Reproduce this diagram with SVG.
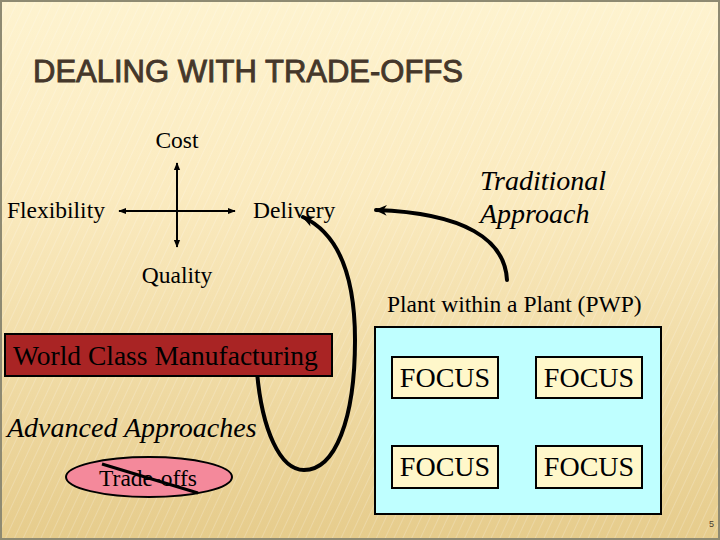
<svg xmlns="http://www.w3.org/2000/svg" width="720" height="540" viewBox="0 0 720 540">
<defs>
<linearGradient id="bg" x1="0" y1="0" x2="0" y2="1">
<stop offset="0" stop-color="#FEF3CF"/>
<stop offset="0.35" stop-color="#FBEBC0"/>
<stop offset="1" stop-color="#E6CC8C"/>
</linearGradient>
<pattern id="stripes" width="8" height="8" patternUnits="userSpaceOnUse" patternTransform="rotate(25)">
<line x1="0" y1="0" x2="0" y2="8" stroke="#FFFFFF" stroke-width="2" stroke-opacity="0.2"/>
</pattern>
<marker id="ah" viewBox="0 0 10 10" refX="9" refY="5" markerWidth="8" markerHeight="8" markerUnits="userSpaceOnUse" orient="auto-start-reverse">
<path d="M0,1 L10,5 L0,9 Z" fill="#000"/>
</marker>
<marker id="ahBig" viewBox="0 0 10 10" refX="9" refY="5" markerWidth="13" markerHeight="12" markerUnits="userSpaceOnUse" orient="auto">
<path d="M0,0.5 L10,5 L0,9.5 L3,5 Z" fill="#000"/>
</marker>
<style>
.serif{font-family:"Liberation Serif","Times New Roman",serif;fill:#000;}
.it{font-style:italic;}
.box{stroke:#000;stroke-width:2;}
.thin{stroke:#000;stroke-width:2;fill:none;}
.thick{stroke:#000;stroke-width:4;fill:none;stroke-linecap:round;}
</style>
</defs>

<rect x="0" y="0" width="720" height="540" fill="url(#bg)"/>
<rect x="0" y="0" width="720" height="540" fill="url(#stripes)"/>
<rect x="1" y="1" width="718" height="538" fill="none" stroke="#8E8A72" stroke-width="2"/>

<text id="title" x="33" y="82" font-family="'Liberation Sans',Arial,sans-serif" font-size="31" fill="#45372A" stroke="#45372A" stroke-width="0.9">DEALING WITH TRADE-OFFS</text>

<g id="connectors">
<line x1="177" y1="247" x2="177" y2="163" class="thin" marker-start="url(#ah)" marker-end="url(#ah)"/>
<line x1="119" y1="211" x2="235" y2="211" class="thin" marker-start="url(#ah)" marker-end="url(#ah)"/>
<path d="M507,280 C505,240 465,213 376,210" class="thick" marker-end="url(#ahBig)"/>
<path d="M257,372 C262,430 280,470 304,470 C335,470 355,420 355,340 C355,270 335,232 303,217" class="thick" marker-end="url(#ahBig)"/>
</g>

<g id="cost"><text x="177" y="148" class="serif" font-size="23.5" text-anchor="middle">Cost</text></g>
<g id="flexibility"><text x="7" y="218" class="serif" font-size="23.5">Flexibility</text></g>
<g id="delivery"><text x="253" y="218" class="serif" font-size="23.5">Delivery</text></g>
<g id="quality"><text x="177" y="283" class="serif" font-size="23.5" text-anchor="middle">Quality</text></g>

<g id="traditional">
<text x="480" y="190" class="serif it" font-size="28">Traditional</text>
<text x="480" y="223" class="serif it" font-size="28">Approach</text>
</g>

<g id="pwp-label"><text x="387" y="312" class="serif" font-size="23.5">Plant within a Plant (PWP)</text></g>

<g id="pwp">
<rect x="375" y="327" width="286" height="187" fill="#BFFFFF" class="box"/>
</g>
<g id="focus1"><rect x="392" y="357" width="106" height="41" fill="#FFF7CA" class="box"/><text x="445" y="387" class="serif" font-size="28" text-anchor="middle">FOCUS</text></g>
<g id="focus2"><rect x="536" y="357" width="106" height="41" fill="#FFF7CA" class="box"/><text x="589" y="387" class="serif" font-size="28" text-anchor="middle">FOCUS</text></g>
<g id="focus3"><rect x="392" y="446" width="106" height="42" fill="#FFF7CA" class="box"/><text x="445" y="476" class="serif" font-size="28" text-anchor="middle">FOCUS</text></g>
<g id="focus4"><rect x="536" y="446" width="106" height="42" fill="#FFF7CA" class="box"/><text x="589" y="476" class="serif" font-size="28" text-anchor="middle">FOCUS</text></g>

<g id="wcm">
<rect x="5" y="334" width="327" height="42" fill="#A92424" class="box"/>
<text x="13" y="365" class="serif" font-size="27.5">World Class Manufacturing</text>
</g>

<g id="advanced"><text x="7" y="437" class="serif it" font-size="28">Advanced Approaches</text></g>

<g id="tradeoffs">
<ellipse cx="149" cy="477" rx="83" ry="20" fill="#F4899B" class="box"/>
<text x="148" y="486" class="serif" font-size="23.5" text-anchor="middle">Trade-offs</text>
<line x1="102" y1="464" x2="198" y2="493" stroke="#000" stroke-width="3"/>
</g>

<g id="page"><text x="709" y="527" font-family="'Liberation Sans',Arial,sans-serif" font-size="9" fill="#4A3C2C">5</text></g>
</svg>
